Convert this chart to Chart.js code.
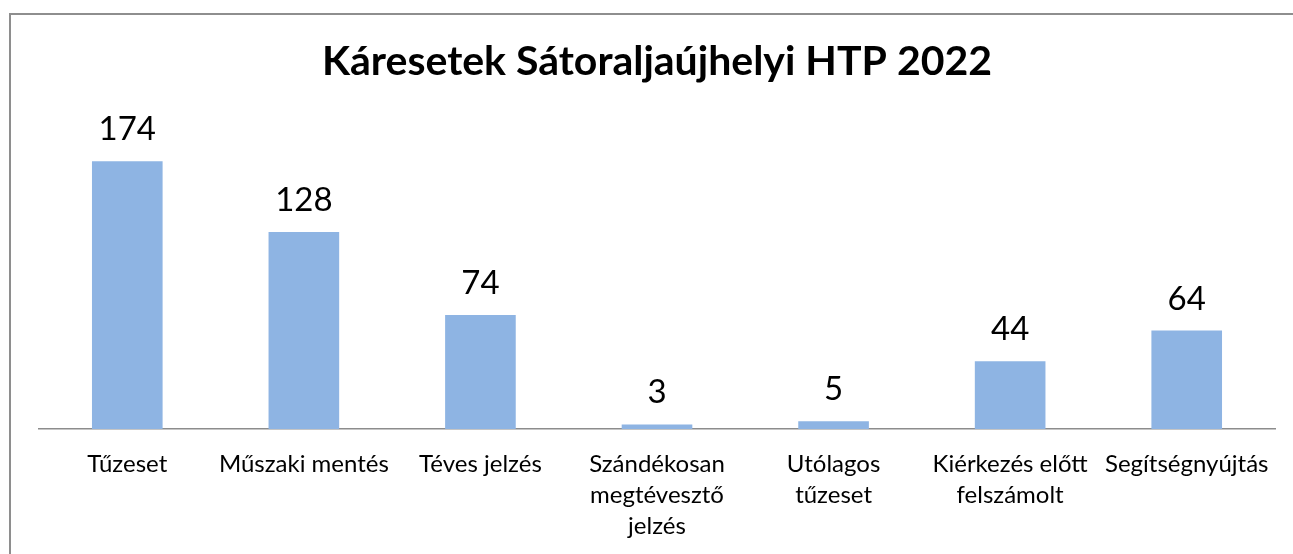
<!DOCTYPE html>
<html>
<head>
<meta charset="utf-8">
<script src="https://cdn.jsdelivr.net/npm/chart.js@4/dist/chart.umd.min.js"></script>
<style>
  html, body { margin: 0; padding: 0; background: #fff; overflow: hidden; }
  #frame {
    position: absolute; left: 9px; top: 13px; right: -5px; bottom: -5px;
    border-left: 2px solid #8e8e8e; border-top: 2px solid #8e8e8e;
  }
  #chart { position: absolute; left: 0; top: 0; }
</style>
</head>
<body>
<div id="frame"></div>
<canvas id="chart" width="1293" height="554"></canvas>
<script>
// Chart data
const chartTitle = "Káresetek Sátoraljaújhelyi HTP 2022";
const categories = [
  "Tűzeset",
  "Műszaki mentés",
  "Téves jelzés",
  ["Szándékosan", "megtévesztő", "jelzés"],
  ["Utólagos", "tűzeset"],
  ["Kiérkezés előtt", "felszámolt"],
  "Segítségnyújtás"
];
const caseCounts = [174, 128, 74, 3, 5, 44, 64];

const fontFamily = "Lato, 'Open Sans', sans-serif";

// draws the value above every bar
const valueLabels = {
  id: "valueLabels",
  afterDatasetsDraw(chart) {
    const c = chart.ctx;
    const meta = chart.getDatasetMeta(0);
    c.save();
    c.font = "33px " + fontFamily;
    c.fillStyle = "#000";
    c.textAlign = "center";
    c.textBaseline = "alphabetic";
    meta.data.forEach((bar, i) => {
      c.fillText(String(caseCounts[i]), bar.x, bar.y - 21);
    });
    c.restore();
  }
};

const ctx = document.getElementById("chart").getContext("2d");

new Chart(ctx, {
  type: "bar",
  data: {
    labels: categories,
    datasets: [
      {
        data: caseCounts,
        backgroundColor: "#8eb4e3",
        borderWidth: 0,
        categoryPercentage: 1.0,
        barPercentage: 0.4
      }
    ]
  },
  options: {
    responsive: false,
    animation: false,
    layout: { padding: { left: 39, right: 18, top: 0, bottom: 0 } },
    plugins: {
      legend: { display: false },
      tooltip: { enabled: false },
      title: {
        display: true,
        text: chartTitle,
        color: "#000",
        font: { family: fontFamily, size: 41, weight: "bold", lineHeight: 1.2 },
        padding: { top: 37, bottom: 35 }
      }
    },
    scales: {
      x: {
        grid: { display: false, drawTicks: false },
        border: { display: true, color: "#8c8c8c", width: 1.5 },
        ticks: {
          color: "#000",
          padding: 20,
          maxRotation: 0,
          autoSkip: false,
          font: { family: fontFamily, size: 24, lineHeight: 1.29 }
        },
        afterFit(scale) { scale.height = 125; }
      },
      y: {
        display: false,
        min: 0,
        max: 200
      }
    }
  },
  plugins: [valueLabels]
});
</script>
</body>
</html>
